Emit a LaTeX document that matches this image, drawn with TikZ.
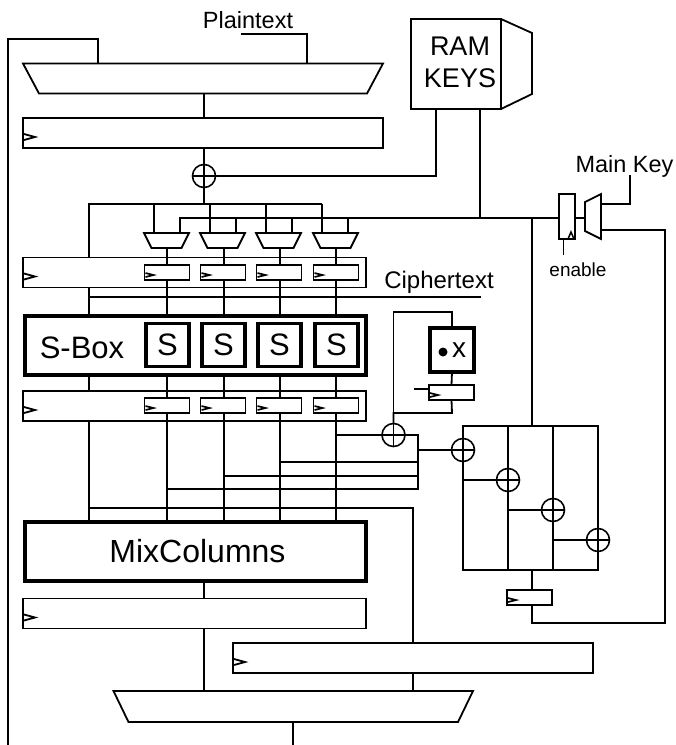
\documentclass[tikz,border=0pt]{standalone}
\usepackage{fontspec}
\setmainfont{Liberation Sans}
\usetikzlibrary{calc}
\newcommand{\fsz}[1]{\fontsize{#1pt}{#1pt}\selectfont}
\tikzset{
  wire/.style={line width=1.8pt,line cap=butt,line join=miter},
  regbox/.style={draw,fill=white,line width=1.8pt,rectangle,inner sep=0,outer sep=0},
  heavybox/.style={draw,fill=white,line width=3.8pt,rectangle,inner sep=0,outer sep=0},
  muxframe/.style={rectangle,inner sep=0,outer sep=0},
  xorgate/.style={circle,draw,fill=white,line width=1.6pt,minimum size=23pt,inner sep=0,outer sep=0,
    path picture={\draw[line width=1.5pt] (path picture bounding box.north)--(path picture bounding box.south)
      (path picture bounding box.west)--(path picture bounding box.east);}},
  txt/.style={inner sep=0,outer sep=0,text=black,align=center},
}
\newcommand{\bigclk}[1]{\draw[wire] ([shift={(1,1)}]#1.west)--++(11,3)--++(-11,3);}
\newcommand{\smallclk}[1]{\draw[line width=1.7pt] ([shift={(1,0.5)}]#1.west)--++(8,2)--++(-8,2);}
\newcommand{\muxdown}[2]{\draw[wire,fill=white] (#1.north west) -- (#1.north east) -- ([xshift=-#2]#1.south east) -- ([xshift=#2]#1.south west) -- cycle;}
\begin{document}
\begin{tikzpicture}[x=1pt,y=-1pt]
\useasboundingbox (0,0) rectangle (676,745);
\fill[white] (0,0) rectangle (676,745);
% column helpers
\coordinate (c1) at (167,0); \coordinate (c2) at (224,0); \coordinate (c3) at (280,0); \coordinate (c4) at (336,0);
\coordinate (d1) at (180,0); \coordinate (d2) at (236,0); \coordinate (d3) at (292,0); \coordinate (d4) at (348,0);
\coordinate (e1) at (154,0); \coordinate (e2) at (210,0); \coordinate (e3) at (266,0); \coordinate (e4) at (322,0);
\coordinate (lft) at (89,0); \coordinate (mid) at (204,0); \coordinate (xl) at (418,0);
\coordinate (busA) at (0,204); \coordinate (busB) at (0,218);
\coordinate (ciph) at (0,297);
% boxes
\node[muxframe,minimum width=360pt,minimum height=30pt] (mt) at (203,78.5) {};
\muxdown{mt}{16pt}
\node[regbox,minimum width=360pt,minimum height=30pt] (r1) at (203,133) {};
\node[xorgate] (x0) at (204,176) {};
\node[regbox,minimum width=90pt,minimum height=90pt] (ram) at (456,64) {};
\node[regbox,minimum width=343pt,minimum height=30pt] (r2) at (194.5,272.5) {};
\node[regbox,minimum width=343pt,minimum height=30pt] (r3) at (194.5,406) {};
\node[regbox,minimum width=343pt,minimum height=30pt] (r4) at (194.5,613.5) {};
\node[regbox,minimum width=360pt,minimum height=30pt] (r5) at (413,658) {};
\node[heavybox,minimum width=341pt,minimum height=59pt] (sb) at (195.5,345.5) {};
\node[heavybox,minimum width=341pt,minimum height=59pt] (mc) at (195.5,551.5) {\hspace*{4pt}\fsz{32}MixColumns};
\node[muxframe,minimum width=359.5pt,minimum height=31pt] (mb) at (293.25,706.5) {};
\muxdown{mb}{15pt}
\node[regbox,minimum width=135pt,minimum height=144pt] (fb) at (530.5,498) {};
% wires: long feedback
\coordinate (fbk) at (8,39);
\coordinate (fbkB) at (8,745);
\coordinate (fbkT) at (98,39);
\draw[wire] (fbkB) -- (fbk) -- (fbkT) -- (fbkT |- mt.north);
\coordinate (pt) at (241,34);
\coordinate (ptd) at (307,34);
\draw[wire] (pt) -- (ptd) -- (ptd |- mt.north);
\draw[wire] (mid |- mt.south) -- (mid |- r1.north);
\draw[wire] (mid |- r1.south) -- (x0.north);
\draw[wire] (x0.south) -- (mid |- busA);
\coordinate (ka) at (436,176);
\draw[wire] (x0.east) -- (ka) -- (ka |- ram.south);
\draw[wire] (ram.north east) -- ++(31,14) -- ++(0,61) -- (ram.south east);
\coordinate (rk) at (480,218);
\draw[wire] (rk |- ram.south) -- (rk);
% buses
\draw[wire] (lft |- r2.north) -- (lft |- busA) -- (e4 |- busA);
\node[muxframe,minimum width=45pt,minimum height=15pt] (m1) at (166.5,240.5) {};
\node[muxframe,minimum width=45pt,minimum height=15pt] (m2) at (222.5,240.5) {};
\node[muxframe,minimum width=45pt,minimum height=15pt] (m3) at (278.5,240.5) {};
\node[muxframe,minimum width=45pt,minimum height=15pt] (m4) at (335.5,240.5) {};
\muxdown{m1}{7.5pt}\muxdown{m2}{7.5pt}\muxdown{m3}{7.5pt}\muxdown{m4}{7.5pt}
\draw[wire] (e1 |- busA) -- (e1 |- m1.north);
\draw[wire] (e2 |- busA) -- (e2 |- m2.north);
\draw[wire] (e3 |- busA) -- (e3 |- m3.north);
\draw[wire] (e4 |- busA) -- (e4 |- m4.north);
\node[regbox,minimum width=16pt,minimum height=45pt] (kreg) at (567,216.5) {};
\draw[wire] (d1 |- m1.north) -- (d1 |- busB) -- (kreg.west |- busB);
\draw[wire] (d2 |- busB) -- (d2 |- m2.north);
\draw[wire] (d3 |- busB) -- (d3 |- m3.north);
\draw[wire] (d4 |- busB) -- (d4 |- m4.north);
% columns
\draw[wire] (c1 |- m1.south) -- (c1 |- sb.north);
\draw[wire] (c2 |- m2.south) -- (c2 |- sb.north);
\draw[wire] (c3 |- m3.south) -- (c3 |- sb.north);
\draw[wire] (c4 |- m4.south) -- (c4 |- sb.north);
\draw[wire] (c1 |- sb.south) -- (c1 |- mc.north);
\draw[wire] (c2 |- sb.south) -- (c2 |- mc.north);
\draw[wire] (c3 |- sb.south) -- (c3 |- mc.north);
\draw[wire] (c4 |- sb.south) -- (c4 |- mc.north);
\draw[wire] (lft |- r2.south) -- (lft |- sb.north);
\draw[wire] (lft |- sb.south) -- (lft |- r3.north);
\draw[wire] (lft |- r3.south) -- (lft |- mc.north);
\draw[wire] (mid |- mc.south) -- (mid |- r4.north);
\draw[wire] (mid |- r4.south) -- (mid |- mb.north);
\coordinate (cipherend) at (481,297);
\draw[wire] (lft |- ciph) -- (cipherend);
\coordinate (outB) at (293,745);
\draw[wire] (outB |- mb.south) -- (outB);
% xor network
\node[xorgate] (x1) at (393.5,435) {};
\node[xorgate] (x2) at (463,450) {};
\node[xorgate] (x3) at (508,480) {};
\node[xorgate] (x4) at (553,510) {};
\node[xorgate] (x5) at (598,540) {};
\draw[wire] (c4 |- x1) -- (x1.west);
\draw[wire] (x1.east) -- (xl |- x1) -- (xl |- 0,489) -- (c1 |- 0,489);
\draw[wire] (c3 |- 0,462) -- (xl |- 0,462);
\draw[wire] (c2 |- 0,476) -- (xl |- 0,476);
\draw[wire] (xl |- x2) -- (x2.west);
\coordinate (lp) at (413,508);
\draw[wire] (lft |- lp) -- (lp) -- (lp |- r5.north);
\draw[wire] (lp |- r5.south) -- (lp |- mb.north);
% xtime
\node[heavybox,minimum width=44pt,minimum height=44pt] (tb) at (452,350) {};
\node[regbox,minimum width=45pt,minimum height=15pt] (tr) at (451.5,392.5) {};
\coordinate (xa) at (393.5,312);
\coordinate (xb) at (393.5,413);
\draw[wire] (x1.north) -- (xb) -- (xb -| tb.south) -- (tr.south);
\draw[wire] (xb) -- (xa) -- (xa -| tb.north) -- (tb.north);
\draw[wire] (tb.south) -- (tr.north);
\coordinate (tclk) at (414,389);
\draw[wire] (tclk) -- (tclk -| tr.west);
% xor box internals
\coordinate (fbA) at (508,0); \coordinate (fbB) at (553,0);
\draw[wire] (fbA |- fb.north) -- (x3.north);
\draw[wire] (x3.south) -- (fbA |- fb.south);
\draw[wire] (fbB |- fb.north) -- (x4.north);
\draw[wire] (x4.south) -- (fbB |- fb.south);
\draw[wire] (fb.west |- x3) -- (x3.west);
\draw[wire] (fbA |- x4) -- (x4.west);
\draw[wire] (fbB |- x5) -- (x5.west);
% key path
\coordinate (kv) at (532,218);
\draw[wire] (kv) -- (kv |- fb.north);
\node[regbox,minimum width=45pt,minimum height=15pt] (kr2) at (529.5,597.5) {};
\draw[wire] (kv |- fb.south) -- (kv |- kr2.north);
\coordinate (ka2) at (532,623);
\coordinate (kb2) at (665,623);
\coordinate (kc2) at (665,230);
\node[muxframe,minimum width=16pt,minimum height=45pt] (km) at (593,216.5) {};
\draw[wire] (km.north east) -- (km.south east) -- ([yshift=8pt]km.south west) -- ([yshift=-8pt]km.north west) -- cycle;
\draw[wire] (kv |- kr2.south) -- (ka2) -- (kb2) -- (kc2) -- (kc2 -| km.east);
\draw[wire] (kreg.east |- busB) -- (km.west |- busB);
\coordinate (mka) at (630,204);
\coordinate (mkb) at (630,175);
\draw[wire] (km.east |- mka) -- (mka) -- (mkb);
\coordinate (en) at (563.5,255);
\draw[wire] (en) -- (en |- kreg.south);
\draw[line width=1.5pt] ([shift={(1,0)}]kreg.south) -- ++(3,-7) -- ++(3,7);
% small registers
\foreach \n/\xx in {a/167,b/223,c/279,d/336}{
  \node[regbox,minimum width=45pt,minimum height=15pt] (u\n) at (\xx,272.5) {};
  \node[regbox,minimum width=45pt,minimum height=15pt] (v\n) at (\xx,405.5) {};
  \node[heavybox,minimum width=43pt,minimum height=43pt] (s\n) at (\xx+.5,345) {\fsz{31}S};
  \smallclk{u\n}
  \smallclk{v\n}
}
\bigclk{r1}\bigclk{r2}\bigclk{r3}\bigclk{r4}\bigclk{r5}
\smallclk{tr}\smallclk{kr2}
% dot x
\node[circle,fill=black,minimum size=9pt,inner sep=0] (tdot) at (443,352) {};
\node[txt] (tx) at (459,350.5) {\fsz{28}x};
% labels
\node[txt] (l1) at (248,20.5) {\fsz{23.5}Plaintext};
\node[txt,font=\fontsize{27pt}{32pt}\selectfont] (l2) at (460,62) {RAM\\KEYS};
\node[txt] (l3) at (624.5,166) {\fsz{23.5}Main Key};
\node[txt] (l4) at (578,270) {\fsz{19}enable};
\node[txt] (l5) at (439,282) {\fsz{24}Ciphertext};
\node[txt] (l6) at (82,348) {\fsz{31}S-Box};
\end{tikzpicture}
\end{document}
